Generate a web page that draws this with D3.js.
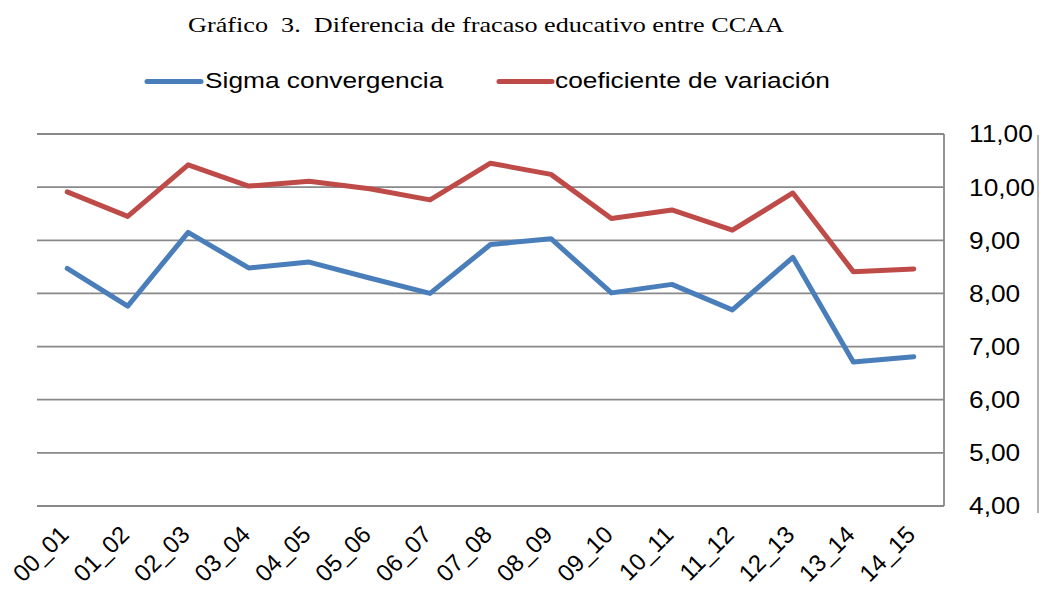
<!DOCTYPE html>
<html>
<head>
<meta charset="utf-8">
<script src="https://cdn.jsdelivr.net/npm/d3@7/dist/d3.min.js"></script>
<style>
  html, body { margin: 0; padding: 0; background: #fff; }
  svg { display: block; }
</style>
</head>
<body>
<svg id="chart" width="1040" height="590"></svg>
<script>
// ---- data ----
const categories = ["00_01","01_02","02_03","03_04","04_05","05_06","06_07","07_08","08_09","09_10","10_11","11_12","12_13","13_14","14_15"];
const sigmaConvergencia = [8.47, 7.76, 9.15, 8.48, 8.59, 8.29, 8.00, 8.92, 9.03, 8.01, 8.17, 7.69, 8.68, 6.71, 6.81];
const coefVariacion = [9.91, 9.45, 10.42, 10.02, 10.11, 9.97, 9.76, 10.45, 10.24, 9.41, 9.57, 9.19, 9.89, 8.41, 8.46];
const yTicks = [4, 5, 6, 7, 8, 9, 10, 11];
const seriesNames = ["Sigma convergencia", "coeficiente de variación"];
const titleText = "Gráfico\u00a0\u00a03.\u00a0\u00a0Diferencia de fracaso educativo entre CCAA";

(function () {
const colors = ["#4a7ebb", "#be4b48"];
const gridColor = "#898989";

const svg = d3.select("#chart");
const plotLeft = 37, plotRight = 944, plotTop = 134, plotBottom = 506;

const x = d3.scalePoint().domain(categories).range([plotLeft, plotRight]).padding(0.5);
const y = d3.scaleLinear().domain([4, 11]).range([plotBottom, plotTop]);

// title
svg.append("text")
  .attr("transform", "translate(486,32) scale(1.19,1)")
  .attr("text-anchor", "middle")
  .style("font-family", "'Liberation Serif','Times New Roman',serif")
  .style("font-size", "22px")
  .attr("fill", "#000")
  .text(titleText);

// gridlines
svg.append("g")
  .selectAll("line")
  .data(yTicks)
  .join("line")
  .attr("x1", plotLeft).attr("x2", plotRight)
  .attr("y1", d => y(d)).attr("y2", d => y(d))
  .attr("stroke", gridColor).attr("stroke-width", 1.8);

// right plot border
svg.append("line")
  .attr("x1", plotRight).attr("x2", plotRight)
  .attr("y1", y(11)).attr("y2", y(4))
  .attr("stroke", gridColor).attr("stroke-width", 1.8);

// far right axis line
svg.append("line")
  .attr("x1", 1038).attr("x2", 1038)
  .attr("y1", y(11) + 1).attr("y2", y(4) + 7)
  .attr("stroke", "#9a9a9a").attr("stroke-width", 1.5);

// y labels (right side)
const fmt = d => d.toFixed(2).replace(".", ",");
svg.append("g")
  .selectAll("text")
  .data(yTicks)
  .join("text")
  .attr("transform", d => `translate(969,${y(d) + 8.4}) scale(1.12,1)`)
  .attr("text-anchor", "start")
  .style("font-family", "'Liberation Sans',Arial,sans-serif")
  .style("font-size", "23.5px")
  .attr("fill", "#000")
  .text(fmt);

// x labels
svg.append("g")
  .selectAll("text")
  .data(categories)
  .join("text")
  .attr("transform", d => `translate(${x(d) + 3},536) rotate(-45)`)
  .attr("text-anchor", "end")
  .style("font-family", "'Liberation Sans',Arial,sans-serif")
  .style("font-size", "24px")
  .attr("fill", "#000")
  .text(d => d);

// lines
const line = d3.line().x((d, i) => x(categories[i])).y(d => y(d));
[sigmaConvergencia, coefVariacion].forEach((s, k) => {
  svg.append("path")
    .datum(s)
    .attr("d", line)
    .attr("fill", "none")
    .attr("stroke", colors[k])
    .attr("stroke-width", 5)
    .attr("stroke-linejoin", "round")
    .attr("stroke-linecap", "round");
});

// legend
const legendItems = [
  { name: seriesNames[0], color: colors[0], x1: 147, x2: 201, tx: 205 },
  { name: seriesNames[1], color: colors[1], x1: 499, x2: 552, tx: 555 }
];
const lg = svg.append("g");
legendItems.forEach(it => {
  lg.append("line")
    .attr("x1", it.x1).attr("x2", it.x2)
    .attr("y1", 81.5).attr("y2", 81.5)
    .attr("stroke", it.color).attr("stroke-width", 5)
    .attr("stroke-linecap", "round");
  lg.append("text")
    .attr("transform", `translate(${it.tx},88) scale(1.17,1)`)
    .style("font-family", "'Liberation Sans',Arial,sans-serif")
    .style("font-size", "22.5px")
    .attr("fill", "#000")
    .text(it.name);
});
})();
</script>
</body>
</html>
